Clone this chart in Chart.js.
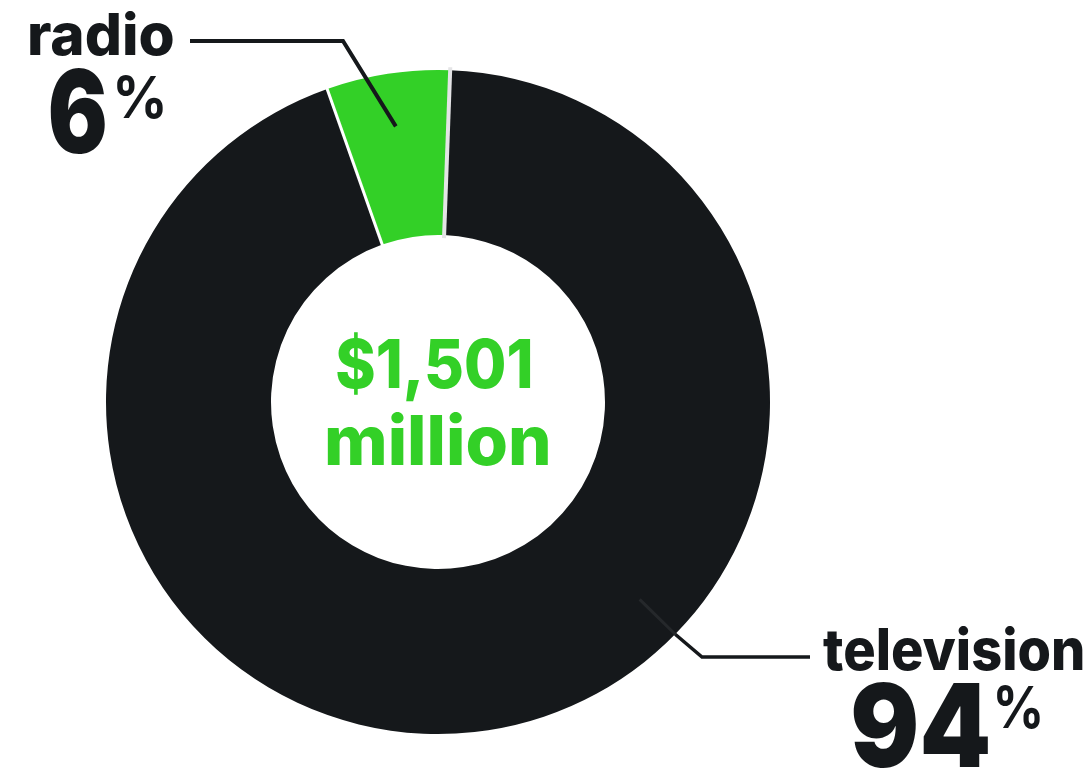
<!DOCTYPE html>
<html>
<head>
<meta charset="utf-8">
<script src="https://cdn.jsdelivr.net/npm/chart.js@4.4.1/dist/chart.umd.min.js"></script>
<style>
  html, body { margin: 0; padding: 0; background: #ffffff; }
  canvas { display: block; }
</style>
</head>
<body>
<canvas id="grafico" width="1091" height="768"></canvas>
<script>
// ad spend split, share in percent
var categorias = ["radio", "television"];
var percentuais = [6, 94];
var cores = ["#33d027", "#15181b"];
var totalTexto = ["$1,501", "million"];

var FONTE = "Inter, 'Noto Sans', 'DejaVu Sans', sans-serif";
var PRETO = "#15181b";

function grau(g) { return g * Math.PI / 180; }

// point on the ring; angle measured clockwise from 12 o'clock
function pontoAnel(arc, anguloTopo, r) {
	var a = grau(anguloTopo - 90);
	return { x: arc.x + r * Math.cos(a), y: arc.y + r * Math.sin(a) };
}

function linha(ctx, pts, cor, largura) {
	ctx.save();
	ctx.strokeStyle = cor;
	ctx.lineWidth = largura;
	ctx.lineJoin = "miter";
	ctx.beginPath();
	ctx.moveTo(pts[0].x, pts[0].y);
	for (var i = 1; i < pts.length; i++) ctx.lineTo(pts[i].x, pts[i].y);
	ctx.stroke();
	ctx.restore();
}

function separador(ctx, arc, ang, cor, largura) {
	ctx.save();
	ctx.strokeStyle = cor;
	ctx.lineWidth = largura;
	ctx.beginPath();
	ctx.moveTo(arc.x + (arc.innerRadius - 3) * Math.cos(ang), arc.y + (arc.innerRadius - 3) * Math.sin(ang));
	ctx.lineTo(arc.x + (arc.outerRadius + 3) * Math.cos(ang), arc.y + (arc.outerRadius + 3) * Math.sin(ang));
	ctx.stroke();
	ctx.restore();
}

// text sized so that glyph "ref" is `altura` tall, squeezed to `largura` wide,
// left edge at x, baseline at y
function texto(ctx, str, peso, ref, x, y, altura, largura, cor) {
	ctx.save();
	ctx.font = peso + " 100px " + FONTE;
	var mRef = ctx.measureText(ref);
	var tam = 100 * altura / mRef.actualBoundingBoxAscent;
	ctx.font = peso + " " + tam + "px " + FONTE;
	var m = ctx.measureText(str);
	var w = m.actualBoundingBoxLeft + m.actualBoundingBoxRight;
	var sx = largura ? largura / w : 1;
	ctx.translate(x, y);
	ctx.scale(sx, 1);
	ctx.fillStyle = cor;
	ctx.textAlign = "left";
	ctx.textBaseline = "alphabetic";
	ctx.fillText(str, m.actualBoundingBoxLeft, 0);
	ctx.restore();
}

var anotacoes = {
	id: "anotacoes",
	afterDatasetsDraw: function (chart) {
		var ctx = chart.ctx;
		var meta = chart.getDatasetMeta(0);
		var radio = meta.data[0];
		var tv = meta.data[1];

		// slice edges
		separador(ctx, radio, radio.startAngle, "#ffffff", 3);
		separador(ctx, radio, radio.endAngle, "#e4e4e6", 4);

		// radio leader
		var meio = (radio.startAngle + radio.endAngle) / 2;
		var fim = {
			x: radio.x + radio.outerRadius * 0.84 * Math.cos(meio),
			y: radio.y + radio.outerRadius * 0.84 * Math.sin(meio)
		};
		linha(ctx, [{ x: 190, y: 41 }, { x: 343, y: 41 }, fim], PRETO, 4);

		// television leader
		var dentro = pontoAnel(tv, 134.4, tv.outerRadius * 0.85);
		var borda = pontoAnel(tv, 134.4, tv.outerRadius);
		linha(ctx, [dentro, borda], "#25282b", 3);
		linha(ctx, [borda, { x: 702, y: 657 }, { x: 810, y: 657 }], PRETO, 3.5);

		// labels
		texto(ctx, categorias[0], 800, "d", 30, 55, 42, 143, PRETO);
		texto(ctx, String(percentuais[0]), 900, "6", 50, 153, 85, 55, PRETO);
		texto(ctx, "%", 700, "%", 117, 118, 43, 46, PRETO);

		texto(ctx, categorias[1], 800, "l", 823, 670, 42, 260, PRETO);
		texto(ctx, String(percentuais[1]), 900, "9", 853, 767, 85, 135, PRETO);
		texto(ctx, "%", 700, "%", 997, 728, 43, 43, PRETO);

		// total in the hole
		texto(ctx, totalTexto[0], 800, "0", 337, 388, 50, 193, cores[0]);
		texto(ctx, totalTexto[1], 800, "l", 327, 465, 50, 221, cores[0]);
	}
};

new Chart(document.getElementById("grafico"), {
	type: "doughnut",
	data: {
		labels: categorias,
		datasets: [
			{
				data: percentuais,
				backgroundColor: cores,
				borderWidth: 0,
				hoverOffset: 0,
			},
		],
	},
	options: {
		responsive: false,
		animation: false,
		cutout: "50.3%",
		rotation: -19.5,
		layout: {
			padding: { left: 106, right: 321, top: 70, bottom: 34 },
		},
		events: [],
		plugins: {
			legend: { display: false },
			tooltip: { enabled: false },
		},
	},
	plugins: [anotacoes],
});
</script>
</body>
</html>
